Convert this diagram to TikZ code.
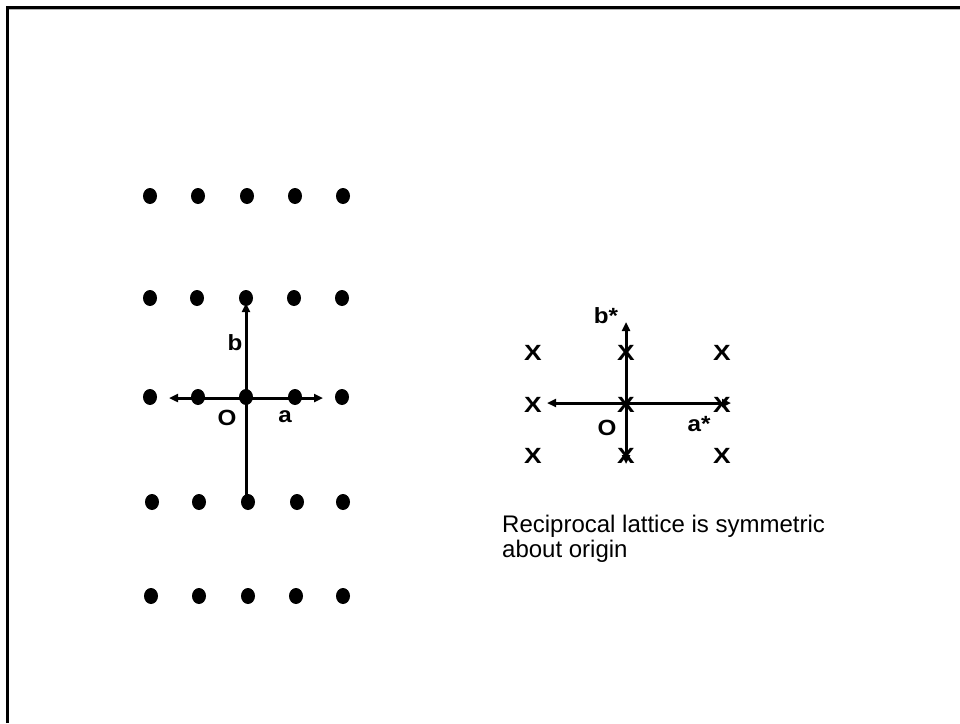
\documentclass[tikz,border=0pt]{standalone}
\usepackage{fontspec}
\setmainfont{Liberation Sans}
\usetikzlibrary{arrows.meta,shapes.geometric}
\newcommand{\wide}[2][1.1]{\scalebox{#1}[1]{#2}}
\tikzset{
  dot/.style={ellipse,fill=black,minimum width=14pt,minimum height=16pt,inner sep=0pt},
  xmark/.style={font=\fontsize{22}{22}\selectfont\bfseries,inner sep=0pt},
  lbl/.style={font=\fontsize{22}{22}\selectfont\bfseries,inner sep=0pt},
  vec/.style={line width=3pt,-{Triangle[length=9pt,width=8pt]}},
  vec2/.style={line width=3pt,{Triangle[length=9pt,width=8pt]}-{Triangle[length=9pt,width=8pt]}},
}
\begin{document}
\begin{tikzpicture}[x=1pt,y=-1pt]
\useasboundingbox (0,0) rectangle (960,723);
% frame (top and left)
\draw[line width=2.2pt] (7.5,723) -- (7.5,7.5) -- (960,7.5);
\draw[gray!60,line width=0.8pt] (9,9.2) -- (960,9.2);
% direct lattice
\foreach \r/\y/\xa/\xb/\xc/\xd/\xe in {1/196/150/198/247/295/343, 2/298/150/197/246/294/342, 3/397/150/198/246/295/342, 4/502/152/199/248/297/343, 5/596/151/199/248/296/343}{
  \node[dot] (d\r-1) at (\xa,\y) {};
  \node[dot] (d\r-2) at (\xb,\y) {};
  \node[dot] (d\r-3) at (\xc,\y) {};
  \node[dot] (d\r-4) at (\xd,\y) {};
  \node[dot] (d\r-5) at (\xe,\y) {};
}
\coordinate (btip) at (246,303);
\coordinate (bbase) at (246,502);
\coordinate (aleft) at (169,398);
\coordinate (aright) at (323,398);
\draw[vec] (bbase) -- (btip);
\draw[vec2] (aleft) -- (aright);
\node[lbl] (lb) at (235,343) {\wide{b}};
\node[lbl] (lO) at (227,418) {\wide{O}};
\node[lbl] (la) at (285,417) {\wide{a}};
% reciprocal lattice
\foreach \r/\y in {1/353,2/405,3/456}{
  \node[xmark] (x\r-1) at (533,\y) {\wide[1.2]{X}};
  \node[xmark] (x\r-2) at (626,\y) {\wide[1.2]{X}};
  \node[xmark] (x\r-3) at (722,\y) {\wide[1.2]{X}};
}
\coordinate (bstop) at (626,322);
\coordinate (bsbot) at (626,464);
\coordinate (asleft) at (547,403);
\coordinate (asright) at (731,403);
\draw[vec2] (bsbot) -- (bstop);
\draw[vec2] (asleft) -- (asright);
\node[lbl] (lbs) at (606,316) {\wide{b*}};
\node[lbl] (lOs) at (607,428) {\wide{O}};
\node[lbl] (las) at (699,424) {\wide{a*}};
\node[anchor=base west,align=left,inner sep=0pt,font=\fontsize{24}{25.5}\selectfont] (cap) at (502,557.5) {Reciprocal lattice is symmetric\\about origin};
\end{tikzpicture}
\end{document}
